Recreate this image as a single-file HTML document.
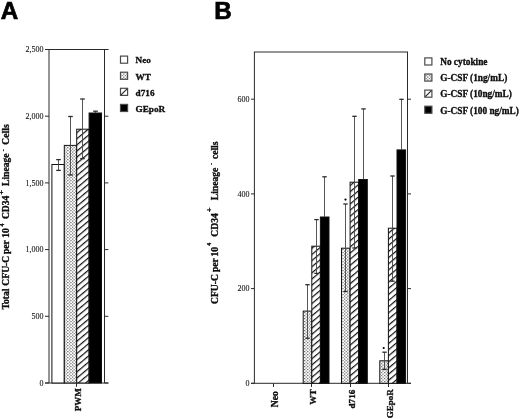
<!DOCTYPE html>
<html><head><meta charset="utf-8"><style>
html,body{margin:0;padding:0;background:#fff;width:520px;height:419px;overflow:hidden}
svg{display:block;filter:blur(0.3px)}
text{fill:#111}
</style></head><body>
<svg width="520" height="419" viewBox="0 0 520 419">
<defs>
<pattern id="dots" width="3.2" height="3" patternUnits="userSpaceOnUse">
<rect width="3.2" height="3" fill="#fff"/><rect x="0" y="0" width="1.2" height="1.2" fill="#666"/><rect x="1.6" y="1.5" width="1.2" height="1.2" fill="#666"/>
</pattern>
<pattern id="hatch" width="4.7" height="10" patternUnits="userSpaceOnUse" patternTransform="rotate(50)">
<rect width="4.7" height="10" fill="#fff"/><rect width="1.2" height="10" fill="#111"/>
</pattern>
</defs>
<text x="0.8" y="18.9" font-family="&quot;Liberation Sans&quot;, sans-serif" font-size="24.2" font-weight="bold" stroke="#000" stroke-width="0.7" style="fill:#000">A</text>
<line x1="49.00" y1="49.50" x2="49.00" y2="383.00" stroke="#2a2a2a" stroke-width="1"/>
<line x1="104.50" y1="49.50" x2="104.50" y2="383.00" stroke="#2a2a2a" stroke-width="1"/>
<line x1="45.00" y1="49.50" x2="108.40" y2="49.50" stroke="#2a2a2a" stroke-width="1"/>
<line x1="45.00" y1="383.00" x2="108.40" y2="383.00" stroke="#2a2a2a" stroke-width="1"/>
<line x1="45.00" y1="383.00" x2="49.00" y2="383.00" stroke="#2a2a2a" stroke-width="1"/>
<line x1="104.50" y1="383.00" x2="108.40" y2="383.00" stroke="#2a2a2a" stroke-width="1"/>
<text x="43.40" y="385.80" font-family="&quot;Liberation Serif&quot;, serif" font-size="8" font-weight="normal" text-anchor="end" stroke="#222" stroke-width="0.1">0</text>
<line x1="45.00" y1="316.30" x2="49.00" y2="316.30" stroke="#2a2a2a" stroke-width="1"/>
<line x1="104.50" y1="316.30" x2="108.40" y2="316.30" stroke="#2a2a2a" stroke-width="1"/>
<text x="43.40" y="319.10" font-family="&quot;Liberation Serif&quot;, serif" font-size="8" font-weight="normal" text-anchor="end" stroke="#222" stroke-width="0.1">500</text>
<line x1="45.00" y1="249.60" x2="49.00" y2="249.60" stroke="#2a2a2a" stroke-width="1"/>
<line x1="104.50" y1="249.60" x2="108.40" y2="249.60" stroke="#2a2a2a" stroke-width="1"/>
<text x="43.40" y="252.40" font-family="&quot;Liberation Serif&quot;, serif" font-size="8" font-weight="normal" text-anchor="end" stroke="#222" stroke-width="0.1">1,000</text>
<line x1="45.00" y1="182.90" x2="49.00" y2="182.90" stroke="#2a2a2a" stroke-width="1"/>
<line x1="104.50" y1="182.90" x2="108.40" y2="182.90" stroke="#2a2a2a" stroke-width="1"/>
<text x="43.40" y="185.70" font-family="&quot;Liberation Serif&quot;, serif" font-size="8" font-weight="normal" text-anchor="end" stroke="#222" stroke-width="0.1">1,500</text>
<line x1="45.00" y1="116.20" x2="49.00" y2="116.20" stroke="#2a2a2a" stroke-width="1"/>
<line x1="104.50" y1="116.20" x2="108.40" y2="116.20" stroke="#2a2a2a" stroke-width="1"/>
<text x="43.40" y="119.00" font-family="&quot;Liberation Serif&quot;, serif" font-size="8" font-weight="normal" text-anchor="end" stroke="#222" stroke-width="0.1">2,000</text>
<line x1="45.00" y1="49.50" x2="49.00" y2="49.50" stroke="#2a2a2a" stroke-width="1"/>
<line x1="104.50" y1="49.50" x2="108.40" y2="49.50" stroke="#2a2a2a" stroke-width="1"/>
<text x="43.40" y="52.30" font-family="&quot;Liberation Serif&quot;, serif" font-size="8" font-weight="normal" text-anchor="end" stroke="#222" stroke-width="0.1">2,500</text>
<rect x="51.90" y="164.50" width="12.40" height="218.50" fill="#fff" stroke="#111" stroke-width="1"/>
<rect x="64.30" y="145.40" width="12.40" height="237.60" fill="url(#dots)" stroke="#111" stroke-width="1"/>
<rect x="76.70" y="129.20" width="12.40" height="253.80" fill="url(#hatch)" stroke="#111" stroke-width="1"/>
<rect x="89.10" y="113.00" width="12.40" height="270.00" fill="#000" stroke="#111" stroke-width="1"/>
<line x1="58.50" y1="159.60" x2="58.50" y2="170.40" stroke="#444" stroke-width="0.9"/>
<line x1="56.20" y1="159.60" x2="60.80" y2="159.60" stroke="#2a2a2a" stroke-width="1.3"/>
<line x1="56.20" y1="170.40" x2="60.80" y2="170.40" stroke="#2a2a2a" stroke-width="1.3"/>
<line x1="70.50" y1="116.50" x2="70.50" y2="175.00" stroke="#444" stroke-width="0.9"/>
<line x1="68.20" y1="116.50" x2="72.80" y2="116.50" stroke="#2a2a2a" stroke-width="1.3"/>
<line x1="68.20" y1="175.00" x2="72.80" y2="175.00" stroke="#2a2a2a" stroke-width="1.3"/>
<line x1="82.50" y1="99.00" x2="82.50" y2="158.60" stroke="#444" stroke-width="0.9"/>
<line x1="80.20" y1="99.00" x2="84.80" y2="99.00" stroke="#2a2a2a" stroke-width="1.3"/>
<line x1="80.20" y1="158.60" x2="84.80" y2="158.60" stroke="#2a2a2a" stroke-width="1.3"/>
<line x1="95.50" y1="111.20" x2="95.50" y2="113.00" stroke="#444" stroke-width="0.9"/>
<line x1="93.20" y1="111.20" x2="97.80" y2="111.20" stroke="#2a2a2a" stroke-width="1.3"/>
<line x1="76.50" y1="383.00" x2="76.50" y2="386.80" stroke="#2a2a2a" stroke-width="1"/>
<text x="80.80" y="411.30" font-family="&quot;Liberation Serif&quot;, serif" font-size="9" font-weight="bold" text-anchor="start" transform="rotate(-90 80.80 411.30)" stroke="#000" stroke-width="0.3">PWM</text>
<text x="9.30" y="299.10" font-family="&quot;Liberation Serif&quot;, serif" font-size="9.6" font-weight="bold" text-anchor="middle" stroke="#000" stroke-width="0.3" transform="rotate(-90 9.30 299.10)">Total</text>
<text x="9.30" y="270.75" font-family="&quot;Liberation Serif&quot;, serif" font-size="9.6" font-weight="bold" text-anchor="middle" stroke="#000" stroke-width="0.3" transform="rotate(-90 9.30 270.75)">CFU-C</text>
<text x="9.30" y="247.15" font-family="&quot;Liberation Serif&quot;, serif" font-size="9.6" font-weight="bold" text-anchor="middle" stroke="#000" stroke-width="0.3" transform="rotate(-90 9.30 247.15)">per</text>
<text x="9.30" y="233.05" font-family="&quot;Liberation Serif&quot;, serif" font-size="9.6" font-weight="bold" text-anchor="middle" stroke="#000" stroke-width="0.3" transform="rotate(-90 9.30 233.05)">10</text>
<text x="3.70" y="224.95" font-family="&quot;Liberation Serif&quot;, serif" font-size="5.8" font-weight="bold" text-anchor="middle" stroke="#000" stroke-width="0.3" transform="rotate(-90 3.70 224.95)">4</text>
<text x="9.30" y="207.40" font-family="&quot;Liberation Serif&quot;, serif" font-size="9.6" font-weight="bold" text-anchor="middle" stroke="#000" stroke-width="0.3" transform="rotate(-90 9.30 207.40)">CD34</text>
<text x="4.00" y="192.30" font-family="&quot;Liberation Serif&quot;, serif" font-size="8.5" font-weight="bold" text-anchor="middle" stroke="#000" stroke-width="0.3" transform="rotate(-90 4.00 192.30)">+</text>
<text x="9.30" y="169.75" font-family="&quot;Liberation Serif&quot;, serif" font-size="9.6" font-weight="bold" text-anchor="middle" stroke="#000" stroke-width="0.3" transform="rotate(-90 9.30 169.75)">Lineage</text>
<text x="5.30" y="150.30" font-family="&quot;Liberation Serif&quot;, serif" font-size="5.8" font-weight="bold" text-anchor="middle" stroke="#000" stroke-width="0.3" transform="rotate(-90 5.30 150.30)">-</text>
<text x="9.30" y="134.50" font-family="&quot;Liberation Serif&quot;, serif" font-size="9.6" font-weight="bold" text-anchor="middle" stroke="#000" stroke-width="0.3" transform="rotate(-90 9.30 134.50)">Cells</text>
<rect x="120.50" y="56.10" width="7.10" height="7.10" fill="#fff" stroke="#4a4a4a" stroke-width="1.2"/>
<text x="135.60" y="63.40" font-family="&quot;Liberation Serif&quot;, serif" font-size="9.2" font-weight="bold" text-anchor="start" stroke="#000" stroke-width="0.3">Neo</text>
<rect x="120.50" y="72.20" width="7.10" height="7.10" fill="url(#dots)" stroke="#4a4a4a" stroke-width="1.2"/>
<text x="135.60" y="79.50" font-family="&quot;Liberation Serif&quot;, serif" font-size="9.2" font-weight="bold" text-anchor="start" stroke="#000" stroke-width="0.3">WT</text>
<rect x="120.50" y="88.30" width="7.10" height="7.10" fill="#fff" stroke="#4a4a4a" stroke-width="1.2"/>
<line x1="121.00" y1="94.90" x2="127.10" y2="88.80" stroke="#222" stroke-width="1.1"/>
<text x="135.60" y="95.60" font-family="&quot;Liberation Serif&quot;, serif" font-size="9.2" font-weight="bold" text-anchor="start" stroke="#000" stroke-width="0.3">d716</text>
<rect x="120.50" y="104.40" width="7.10" height="7.10" fill="#000" stroke="#4a4a4a" stroke-width="1.2"/>
<text x="135.60" y="111.70" font-family="&quot;Liberation Serif&quot;, serif" font-size="9.2" font-weight="bold" text-anchor="start" stroke="#000" stroke-width="0.3">GEpoR</text>
<text x="214.3" y="18.8" font-family="&quot;Liberation Sans&quot;, sans-serif" font-size="24.2" font-weight="bold" stroke="#000" stroke-width="0.7" style="fill:#000">B</text>
<line x1="254.40" y1="52.00" x2="254.40" y2="383.30" stroke="#2a2a2a" stroke-width="1"/>
<line x1="407.50" y1="52.00" x2="407.50" y2="383.30" stroke="#2a2a2a" stroke-width="1"/>
<line x1="253.90" y1="52.00" x2="408.00" y2="52.00" stroke="#2a2a2a" stroke-width="1"/>
<line x1="251.00" y1="383.30" x2="411.00" y2="383.30" stroke="#2a2a2a" stroke-width="1"/>
<line x1="251.00" y1="383.30" x2="254.40" y2="383.30" stroke="#2a2a2a" stroke-width="1"/>
<line x1="407.50" y1="383.30" x2="411.00" y2="383.30" stroke="#2a2a2a" stroke-width="1"/>
<text x="249.60" y="386.10" font-family="&quot;Liberation Serif&quot;, serif" font-size="8" font-weight="normal" text-anchor="end" stroke="#222" stroke-width="0.1">0</text>
<line x1="251.00" y1="288.60" x2="254.40" y2="288.60" stroke="#2a2a2a" stroke-width="1"/>
<line x1="407.50" y1="288.60" x2="411.00" y2="288.60" stroke="#2a2a2a" stroke-width="1"/>
<text x="249.60" y="291.40" font-family="&quot;Liberation Serif&quot;, serif" font-size="8" font-weight="normal" text-anchor="end" stroke="#222" stroke-width="0.1">200</text>
<line x1="251.00" y1="193.90" x2="254.40" y2="193.90" stroke="#2a2a2a" stroke-width="1"/>
<line x1="407.50" y1="193.90" x2="411.00" y2="193.90" stroke="#2a2a2a" stroke-width="1"/>
<text x="249.60" y="196.70" font-family="&quot;Liberation Serif&quot;, serif" font-size="8" font-weight="normal" text-anchor="end" stroke="#222" stroke-width="0.1">400</text>
<line x1="251.00" y1="99.20" x2="254.40" y2="99.20" stroke="#2a2a2a" stroke-width="1"/>
<line x1="407.50" y1="99.20" x2="411.00" y2="99.20" stroke="#2a2a2a" stroke-width="1"/>
<text x="249.60" y="102.00" font-family="&quot;Liberation Serif&quot;, serif" font-size="8" font-weight="normal" text-anchor="end" stroke="#222" stroke-width="0.1">600</text>
<line x1="273.50" y1="383.30" x2="273.50" y2="387.00" stroke="#2a2a2a" stroke-width="1"/>
<line x1="311.50" y1="383.30" x2="311.50" y2="387.00" stroke="#2a2a2a" stroke-width="1"/>
<line x1="350.50" y1="383.30" x2="350.50" y2="387.00" stroke="#2a2a2a" stroke-width="1"/>
<line x1="388.50" y1="383.30" x2="388.50" y2="387.00" stroke="#2a2a2a" stroke-width="1"/>
<rect x="303.20" y="311.10" width="8.60" height="72.20" fill="url(#dots)" stroke="#111" stroke-width="1"/>
<rect x="311.80" y="246.20" width="8.60" height="137.10" fill="url(#hatch)" stroke="#111" stroke-width="1"/>
<rect x="320.40" y="217.00" width="8.60" height="166.30" fill="#000" stroke="#111" stroke-width="1"/>
<rect x="341.50" y="248.20" width="8.60" height="135.10" fill="url(#dots)" stroke="#111" stroke-width="1"/>
<rect x="350.10" y="182.20" width="8.60" height="201.10" fill="url(#hatch)" stroke="#111" stroke-width="1"/>
<rect x="358.70" y="179.50" width="8.60" height="203.80" fill="#000" stroke="#111" stroke-width="1"/>
<rect x="379.80" y="360.80" width="8.60" height="22.50" fill="url(#dots)" stroke="#111" stroke-width="1"/>
<rect x="388.40" y="228.20" width="8.60" height="155.10" fill="url(#hatch)" stroke="#111" stroke-width="1"/>
<rect x="397.00" y="149.90" width="8.60" height="233.40" fill="#000" stroke="#111" stroke-width="1"/>
<line x1="307.50" y1="284.70" x2="307.50" y2="338.20" stroke="#444" stroke-width="0.9"/>
<line x1="305.30" y1="284.70" x2="309.70" y2="284.70" stroke="#2a2a2a" stroke-width="1.3"/>
<line x1="305.30" y1="338.20" x2="309.70" y2="338.20" stroke="#2a2a2a" stroke-width="1.3"/>
<line x1="316.50" y1="219.60" x2="316.50" y2="273.40" stroke="#444" stroke-width="0.9"/>
<line x1="314.30" y1="219.60" x2="318.70" y2="219.60" stroke="#2a2a2a" stroke-width="1.3"/>
<line x1="314.30" y1="273.40" x2="318.70" y2="273.40" stroke="#2a2a2a" stroke-width="1.3"/>
<line x1="324.50" y1="176.80" x2="324.50" y2="217.00" stroke="#444" stroke-width="0.9"/>
<line x1="322.30" y1="176.80" x2="326.70" y2="176.80" stroke="#2a2a2a" stroke-width="1.3"/>
<line x1="345.50" y1="204.00" x2="345.50" y2="291.50" stroke="#444" stroke-width="0.9"/>
<line x1="343.30" y1="204.00" x2="347.70" y2="204.00" stroke="#2a2a2a" stroke-width="1.3"/>
<line x1="343.30" y1="291.50" x2="347.70" y2="291.50" stroke="#2a2a2a" stroke-width="1.3"/>
<line x1="354.50" y1="116.30" x2="354.50" y2="248.00" stroke="#444" stroke-width="0.9"/>
<line x1="352.30" y1="116.30" x2="356.70" y2="116.30" stroke="#2a2a2a" stroke-width="1.3"/>
<line x1="352.30" y1="248.00" x2="356.70" y2="248.00" stroke="#2a2a2a" stroke-width="1.3"/>
<line x1="363.50" y1="108.90" x2="363.50" y2="179.50" stroke="#444" stroke-width="0.9"/>
<line x1="361.30" y1="108.90" x2="365.70" y2="108.90" stroke="#2a2a2a" stroke-width="1.3"/>
<line x1="384.50" y1="352.20" x2="384.50" y2="369.40" stroke="#444" stroke-width="0.9"/>
<line x1="382.30" y1="352.20" x2="386.70" y2="352.20" stroke="#2a2a2a" stroke-width="1.3"/>
<line x1="382.30" y1="369.40" x2="386.70" y2="369.40" stroke="#2a2a2a" stroke-width="1.3"/>
<line x1="392.50" y1="176.00" x2="392.50" y2="281.20" stroke="#444" stroke-width="0.9"/>
<line x1="390.30" y1="176.00" x2="394.70" y2="176.00" stroke="#2a2a2a" stroke-width="1.3"/>
<line x1="390.30" y1="281.20" x2="394.70" y2="281.20" stroke="#2a2a2a" stroke-width="1.3"/>
<line x1="401.50" y1="99.30" x2="401.50" y2="149.90" stroke="#444" stroke-width="0.9"/>
<line x1="399.30" y1="99.30" x2="403.70" y2="99.30" stroke="#2a2a2a" stroke-width="1.3"/>
<circle cx="345.5" cy="199.6" r="1.1" fill="#000"/>
<circle cx="383.7" cy="348.0" r="1.1" fill="#000"/>
<text x="278.00" y="391.30" font-family="&quot;Liberation Serif&quot;, serif" font-size="9.6" font-weight="bold" text-anchor="end" transform="rotate(-90 278.00 391.30)" stroke="#000" stroke-width="0.3">Neo</text>
<text x="315.60" y="389.30" font-family="&quot;Liberation Serif&quot;, serif" font-size="9.2" font-weight="bold" text-anchor="end" transform="rotate(-90 315.60 389.30)" stroke="#000" stroke-width="0.3">WT</text>
<text x="355.00" y="389.60" font-family="&quot;Liberation Serif&quot;, serif" font-size="9.2" font-weight="bold" text-anchor="end" transform="rotate(-90 355.00 389.60)" stroke="#000" stroke-width="0.3">d716</text>
<text x="392.70" y="389.30" font-family="&quot;Liberation Serif&quot;, serif" font-size="9.0" font-weight="bold" text-anchor="end" transform="rotate(-90 392.70 389.30)" stroke="#000" stroke-width="0.3">GEpoR</text>
<text x="218.00" y="289.00" font-family="&quot;Liberation Serif&quot;, serif" font-size="9.6" font-weight="bold" text-anchor="middle" stroke="#000" stroke-width="0.3" transform="rotate(-90 218.00 289.00)">CFU-C</text>
<text x="218.00" y="265.15" font-family="&quot;Liberation Serif&quot;, serif" font-size="9.6" font-weight="bold" text-anchor="middle" stroke="#000" stroke-width="0.3" transform="rotate(-90 218.00 265.15)">per</text>
<text x="218.00" y="251.75" font-family="&quot;Liberation Serif&quot;, serif" font-size="9.6" font-weight="bold" text-anchor="middle" stroke="#000" stroke-width="0.3" transform="rotate(-90 218.00 251.75)">10</text>
<text x="211.20" y="244.20" font-family="&quot;Liberation Serif&quot;, serif" font-size="5.8" font-weight="bold" text-anchor="middle" stroke="#000" stroke-width="0.3" transform="rotate(-90 211.20 244.20)">4</text>
<text x="218.00" y="224.95" font-family="&quot;Liberation Serif&quot;, serif" font-size="9.6" font-weight="bold" text-anchor="middle" stroke="#000" stroke-width="0.3" transform="rotate(-90 218.00 224.95)">CD34</text>
<text x="211.60" y="209.70" font-family="&quot;Liberation Serif&quot;, serif" font-size="8.5" font-weight="bold" text-anchor="middle" stroke="#000" stroke-width="0.3" transform="rotate(-90 211.60 209.70)">+</text>
<text x="218.00" y="184.00" font-family="&quot;Liberation Serif&quot;, serif" font-size="9.6" font-weight="bold" text-anchor="middle" stroke="#000" stroke-width="0.3" transform="rotate(-90 218.00 184.00)">Lineage</text>
<text x="212.80" y="163.70" font-family="&quot;Liberation Serif&quot;, serif" font-size="5.8" font-weight="bold" text-anchor="middle" stroke="#000" stroke-width="0.3" transform="rotate(-90 212.80 163.70)">-</text>
<text x="218.00" y="150.30" font-family="&quot;Liberation Serif&quot;, serif" font-size="9.6" font-weight="bold" text-anchor="middle" stroke="#000" stroke-width="0.3" transform="rotate(-90 218.00 150.30)">cells</text>
<rect x="424.80" y="57.90" width="7.10" height="7.10" fill="#fff" stroke="#4a4a4a" stroke-width="1.2"/>
<text x="440.20" y="65.20" font-family="&quot;Liberation Serif&quot;, serif" font-size="9.3" font-weight="bold" text-anchor="start" stroke="#000" stroke-width="0.3">No cytokine</text>
<rect x="424.80" y="74.00" width="7.10" height="7.10" fill="url(#dots)" stroke="#4a4a4a" stroke-width="1.2"/>
<text x="440.20" y="81.30" font-family="&quot;Liberation Serif&quot;, serif" font-size="9.3" font-weight="bold" text-anchor="start" stroke="#000" stroke-width="0.3">G-CSF (1ng/mL)</text>
<rect x="424.80" y="90.10" width="7.10" height="7.10" fill="#fff" stroke="#4a4a4a" stroke-width="1.2"/>
<line x1="425.30" y1="96.70" x2="431.40" y2="90.60" stroke="#222" stroke-width="1.1"/>
<text x="440.20" y="97.40" font-family="&quot;Liberation Serif&quot;, serif" font-size="9.3" font-weight="bold" text-anchor="start" stroke="#000" stroke-width="0.3">G-CSF (10ng/mL)</text>
<rect x="424.80" y="106.20" width="7.10" height="7.10" fill="#000" stroke="#4a4a4a" stroke-width="1.2"/>
<text x="440.20" y="113.50" font-family="&quot;Liberation Serif&quot;, serif" font-size="9.3" font-weight="bold" text-anchor="start" stroke="#000" stroke-width="0.3">G-CSF (100 ng/mL)</text>
</svg>
</body></html>
